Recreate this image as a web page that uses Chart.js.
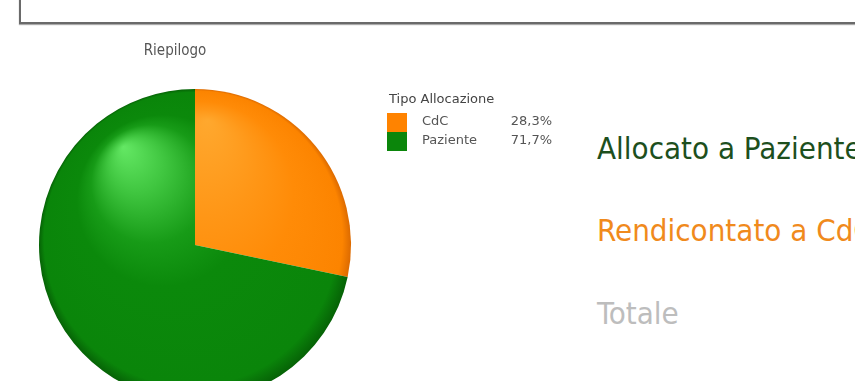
<!DOCTYPE html>
<html lang="it">
<head>
<meta charset="utf-8">
<title>Riepilogo</title>
<script src="https://cdn.jsdelivr.net/npm/chart.js@4.4.1/dist/chart.umd.min.js"></script>
<style>
  html, body { margin: 0; padding: 0; background: #fff; overflow: hidden; }
  body { width: 855px; height: 381px; position: relative; font-family: "DejaVu Sans Condensed", "DejaVu Sans", sans-serif; }
  .box { position: absolute; left: 19px; top: -30px; width: 900px; height: 50px; border: 2px solid #6a6a6a; box-shadow: 0 1px 1px #aaa; }
  #riepilogo { position: absolute; left: 0; top: 0; }
  .totali { position: absolute; left: 597px; font-size: 31px; white-space: nowrap; line-height: 1; }
  .paziente { top: 133px; color: #1d4f1d; }
  .cdc { top: 215px; color: #f08a1c; }
  .totale { top: 298px; color: #bdbdbd; }
</style>
</head>
<body>
<div class="box"></div>
<canvas id="riepilogo" width="570" height="420"></canvas>
<div class="totali paziente">Allocato a Paziente</div>
<div class="totali cdc">Rendicontato a CdC</div>
<div class="totali totale">Totale</div>
<script>
(function () {
  const labels = ["CdC", "Paziente"];
  const values = [28.3, 71.7];
  const legendTitle = "Tipo Allocazione";
  const chartTitle = "Riepilogo";
  const FONT = '"DejaVu Sans Condensed", "DejaVu Sans", sans-serif';

  // sfumature: punto di luce (in frazioni del raggio) e stop di colore
  const shades = [
    { fx: 0.08, fy: -0.8, stops: [[0, "#ffa82e"], [0.35, "#ff9616"], [0.6, "#ff8b07"], [0.94, "#fc8400"], [1, "#dc6a00"]] },
    { fx: -0.46, fy: -0.63, stops: [[0, "#64e864"], [0.18, "#40c640"], [0.38, "#179b17"], [0.55, "#0b890b"], [0.94, "#0a850a"], [1, "#066206"]] },
  ];
  const swatch = ["#ff8300", "#0b860b"];

  function sphere(context) {
    const chart = context.chart;
    const area = chart.chartArea;
    if (!area) return swatch[context.dataIndex];
    const cx = (area.left + area.right) / 2;
    const cy = (area.top + area.bottom) / 2;
    const r = Math.min(area.right - area.left, area.bottom - area.top) / 2;
    const s = shades[context.dataIndex];
    const g = chart.ctx.createRadialGradient(cx + r * s.fx, cy + r * s.fy, 0, cx, cy, r);
    s.stops.forEach(([stop, color]) => g.addColorStop(stop, color));
    return g;
  }

  function pct(v) {
    const tot = values.reduce((a, b) => a + b, 0);
    return (v / tot * 100).toFixed(1).replace(".", ",") + "%";
  }

  // titolo e legenda disegnati a mano accanto alla torta
  const decorations = {
    id: "decorations",
    afterDraw(chart) {
      const ctx = chart.ctx;
      ctx.save();
      ctx.textBaseline = "middle";
      ctx.fillStyle = "#555";
      ctx.font = "15px " + FONT;
      ctx.textAlign = "center";
      ctx.fillText(chartTitle, 175, 51);

      ctx.font = '13px "DejaVu Sans", sans-serif';
      ctx.textAlign = "left";
      ctx.fillStyle = "#444";
      ctx.fillText(legendTitle, 389, 100);
      labels.forEach((label, i) => {
        const y = 113 + i * 19;
        ctx.fillStyle = swatch[i];
        ctx.fillRect(387, y, 20, 19);
        ctx.fillStyle = "#555";
        ctx.textAlign = "left";
        ctx.fillText(label, 422, y + 9);
        ctx.textAlign = "right";
        ctx.fillText(pct(values[i]), 552, y + 9);
      });
      ctx.restore();
    },
  };

  new Chart(document.getElementById("riepilogo"), {
    type: "pie",
    data: {
      labels,
      datasets: [{
        data: values,
        backgroundColor: sphere,
        borderWidth: 0,
      }],
    },
    options: {
      responsive: false,
      animation: false,
      layout: { padding: { left: 38, top: 89, right: 218, bottom: 19 } },
      plugins: {
        legend: { display: false },
        title: { display: false },
        tooltip: { enabled: false },
      },
    },
    plugins: [decorations],
  });
})();
</script>
</body>
</html>
